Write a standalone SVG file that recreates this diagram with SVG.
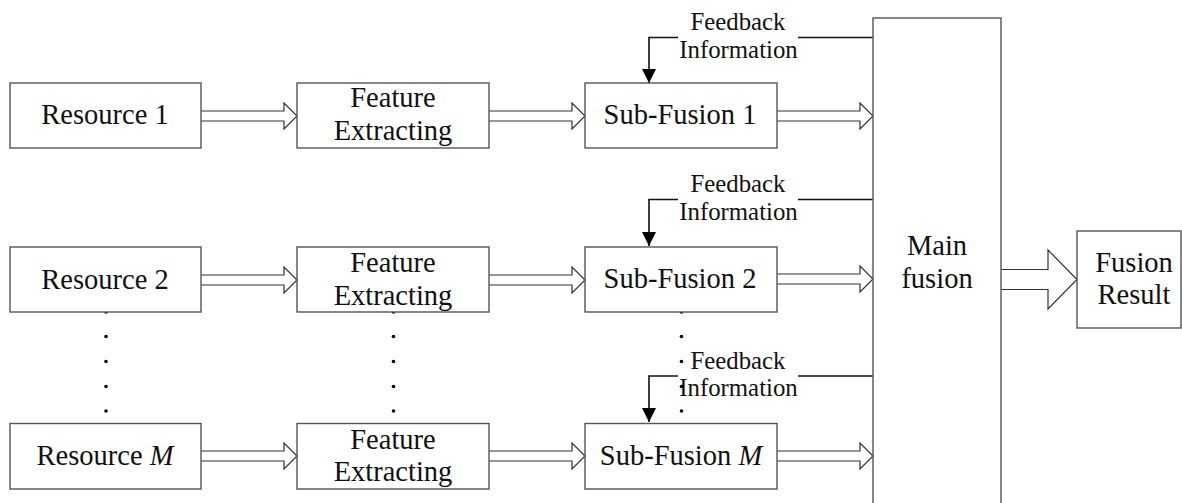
<svg xmlns="http://www.w3.org/2000/svg" width="1182" height="503" viewBox="0 0 1182 503">
<style>
.box{fill:#fff;stroke:#555;stroke-width:1.4}
.t{font-family:"Liberation Serif","Times New Roman",serif;font-size:28.5px;fill:#111;text-anchor:middle}
.fb{font-family:"Liberation Serif","Times New Roman",serif;font-size:24.8px;fill:#111;text-anchor:middle}
.ha{fill:#fff;stroke:#333;stroke-width:1.2;stroke-linejoin:miter}
.fl{fill:none;stroke:#111;stroke-width:1.6}
.dot{fill:#000}
</style>
<defs>
<marker id="ah" viewBox="0 0 10 10" refX="10" refY="5" markerWidth="14" markerHeight="15" markerUnits="userSpaceOnUse" orient="auto">
<path d="M0,0 L10,5 L0,10 z" fill="#000"/>
</marker>
</defs>
<rect width="1182" height="503" fill="#fff"/>

<g id="connectors">
<!-- row 1 hollow arrows -->
<path class="ha" d="M201,111 H284 V103 L297,116 L284,129 V121 H201"/>
<path class="ha" d="M489,111 H572 V103 L585,116 L572,129 V121 H489"/>
<path class="ha" d="M777,111 H860 V103 L873,116 L860,129 V121 H777"/>
<!-- row 2 -->
<path class="ha" d="M201,275 H284 V267 L297,280 L284,293 V285 H201"/>
<path class="ha" d="M489,275 H572 V267 L585,280 L572,293 V285 H489"/>
<path class="ha" d="M777,274 H860 V266 L873,279 L860,292 V284 H777"/>
<!-- row M -->
<path class="ha" d="M201,451 H284 V443 L297,456 L284,469 V461 H201"/>
<path class="ha" d="M489,451 H572 V443 L585,456 L572,469 V461 H489"/>
<path class="ha" d="M777,451 H860 V443 L873,456 L860,469 V461 H777"/>
<!-- big output arrow -->
<path class="ha" d="M1001,269.5 H1048 V250 L1077,279.5 L1048,309 V289.5 H1001"/>
<!-- feedback lines -->
<path class="fl" d="M873,37.5 H798"/>
<path class="fl" d="M678,37.5 H649 V83" marker-end="url(#ah)"/>
<path class="fl" d="M873,199.5 H798"/>
<path class="fl" d="M678,199.5 H649 V246" marker-end="url(#ah)"/>
<path class="fl" d="M873,376 H798"/>
<path class="fl" d="M678,376 H649 V422" marker-end="url(#ah)"/>
</g>

<g id="feedback-labels">
<text class="fb" x="738" y="30">Feedback</text>
<text class="fb" x="738.5" y="58">Information</text>
<text class="fb" x="738" y="192">Feedback</text>
<text class="fb" x="738.5" y="220">Information</text>
<text class="fb" x="738" y="369">Feedback</text>
<text class="fb" x="738.5" y="396">Information</text>
</g>

<g id="dots">
<circle class="dot" cx="106" cy="312" r="1.8"/>
<circle class="dot" cx="106" cy="336.5" r="1.8"/>
<circle class="dot" cx="106" cy="361.5" r="1.8"/>
<circle class="dot" cx="106" cy="386.5" r="1.8"/>
<circle class="dot" cx="106" cy="411" r="1.8"/>
<circle class="dot" cx="393.5" cy="312" r="1.8"/>
<circle class="dot" cx="393.5" cy="336.5" r="1.8"/>
<circle class="dot" cx="393.5" cy="361.5" r="1.8"/>
<circle class="dot" cx="393.5" cy="386.5" r="1.8"/>
<circle class="dot" cx="393.5" cy="411" r="1.8"/>
<circle class="dot" cx="681.5" cy="312" r="1.8"/>
<circle class="dot" cx="681.5" cy="336.5" r="1.8"/>
<circle class="dot" cx="681.5" cy="361.5" r="1.8"/>
<circle class="dot" cx="681.5" cy="386.5" r="1.8"/>
<circle class="dot" cx="681.5" cy="411" r="1.8"/>
</g>

<g id="resource1"><rect class="box" x="10" y="83" width="191" height="65"/><text class="t" x="105" y="124">Resource 1</text></g>
<g id="feature1"><rect class="box" x="297" y="83" width="192" height="65"/><text class="t" x="393" y="107">Feature</text><text class="t" x="393" y="140">Extracting</text></g>
<g id="subfusion1"><rect class="box" x="585" y="83" width="192" height="65"/><text class="t" x="680" y="123.5">Sub-Fusion 1</text></g>

<g id="resource2"><rect class="box" x="10" y="247" width="191" height="65"/><text class="t" x="105" y="288.5">Resource 2</text></g>
<g id="feature2"><rect class="box" x="297" y="247" width="192" height="65"/><text class="t" x="393" y="271.5">Feature</text><text class="t" x="393" y="305">Extracting</text></g>
<g id="subfusion2"><rect class="box" x="585" y="247" width="192" height="65"/><text class="t" x="680" y="288">Sub-Fusion 2</text></g>

<g id="resourceM"><rect class="box" x="10" y="423.5" width="191" height="65.5"/><text class="t" x="105" y="465">Resource <tspan font-style="italic">M</tspan></text></g>
<g id="featureM"><rect class="box" x="297" y="423.5" width="192" height="65.5"/><text class="t" x="393" y="448.5">Feature</text><text class="t" x="393" y="480.5">Extracting</text></g>
<g id="subfusionM"><rect class="box" x="585" y="423.5" width="192" height="65.5"/><text class="t" x="681" y="464.5">Sub-Fusion <tspan font-style="italic">M</tspan></text></g>

<g id="mainfusion"><rect class="box" x="873" y="18" width="128" height="495"/><text class="t" x="937" y="255">Main</text><text class="t" x="937" y="287.5">fusion</text></g>

<g id="fusionresult"><rect class="box" x="1077" y="231" width="104" height="97"/><text class="t" x="1134" y="272">Fusion</text><text class="t" x="1134" y="304">Result</text></g>
</svg>
